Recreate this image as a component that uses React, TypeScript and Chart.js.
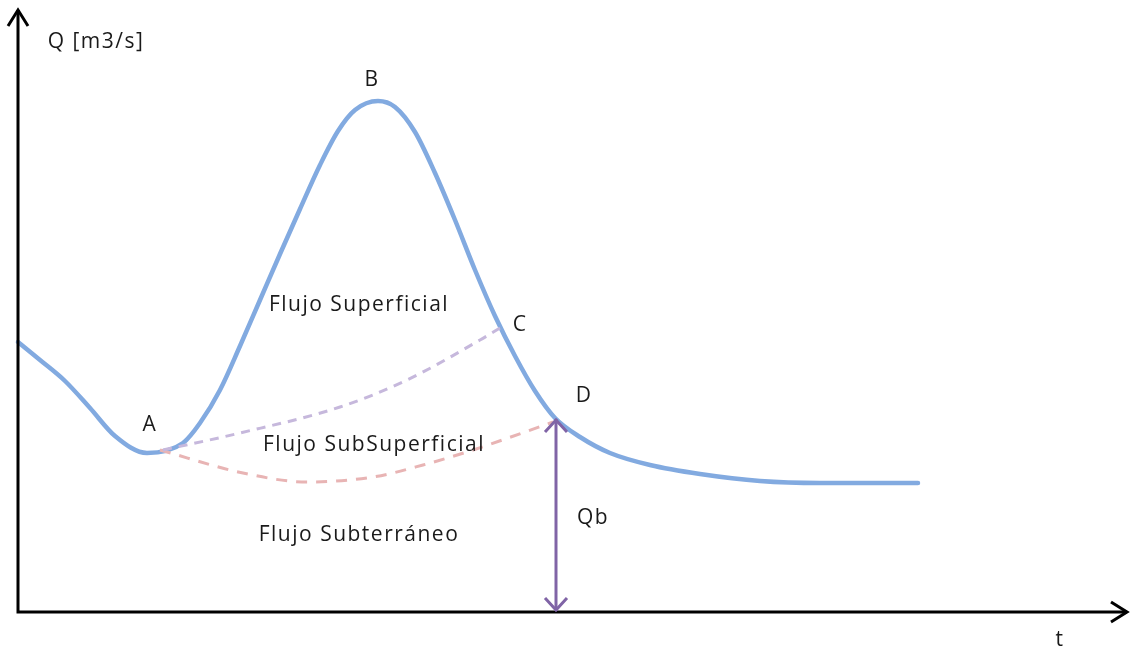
import React, { useEffect, useRef } from "react";
import { Chart, registerables } from "chart.js";

Chart.register(...registerables);

// Hydrograph (time units vs Q)
const hydroT = [0, 22, 47, 72, 97, 129, 165, 182, 202, 222, 242, 262, 282, 302, 320, 337, 360, 377, 397, 417, 437, 457, 477, 497, 517, 537, 562, 592, 632, 682, 742, 802, 900];
const hydroQ = [270, 252, 231, 204, 176, 159, 169, 189, 222, 266, 312, 358, 403, 447, 481, 502, 511, 505, 480, 439, 392, 342, 296, 256, 221, 194, 175, 159, 147, 138, 131, 129, 129];

// Separation line: superficial / subsuperficial (A -> C)
const subSupT = [145, 222, 322, 389, 462, 482];
const subSupQ = [162, 179, 205, 232, 272, 284];

// Separation line: subsuperficial / subterranean (A -> D)
const baseT = [142, 225, 289, 355, 405, 455, 535];
const baseQ = [162, 139, 130, 135, 147, 162, 190];

// Base flow Qb at point D
const qbTime = 538;
const qbValue = 194;

// Axis extents
const tMax = 1109;
const qMax = 602;

// Annotations
const labelTexts = ["Q [m3/s]", "B", "A", "C", "D", "Flujo Superficial", "Flujo SubSuperficial", "Flujo Subterráneo", "Qb", "t"];
const labelT = [78, 354, 132, 502, 566, 341, 356, 341, 575, 1042];
const labelQ = [570, 532, 187, 287, 216, 307, 167, 77, 94, -28];

export default function App() {
  const ref = useRef<HTMLCanvasElement | null>(null);

  useEffect(() => {
    document.body.style.margin = "0";
    const pts = (xs: number[], ys: number[]) => xs.map((x, i) => ({ x, y: ys[i] }));

    const overlay = {
      id: "overlay",
      afterDatasetsDraw(chart: any) {
        const { ctx } = chart;
        const sx = chart.scales.x;
        const sy = chart.scales.y;
        const X = (v: number) => sx.getPixelForValue(v);
        const Y = (v: number) => sy.getPixelForValue(v);
        ctx.save();
        // axes
        ctx.strokeStyle = "#000";
        ctx.lineWidth = 3;
        ctx.lineCap = "butt";
        ctx.lineJoin = "miter";
        ctx.beginPath();
        ctx.moveTo(X(0), Y(0) + 1.5);
        ctx.lineTo(X(0), Y(qMax));
        ctx.moveTo(X(0) - 1.5, Y(0));
        ctx.lineTo(X(tMax), Y(0));
        ctx.stroke();
        // arrowheads
        ctx.beginPath();
        ctx.moveTo(X(0) - 10, Y(qMax) + 16);
        ctx.lineTo(X(0), Y(qMax));
        ctx.lineTo(X(0) + 10, Y(qMax) + 16);
        ctx.moveTo(X(tMax) - 16, Y(0) - 10);
        ctx.lineTo(X(tMax), Y(0));
        ctx.lineTo(X(tMax) - 16, Y(0) + 10);
        ctx.stroke();

        // Qb double arrow
        ctx.strokeStyle = "rgb(128,100,166)";
        ctx.lineWidth = 3;
        const qx = X(qbTime);
        const top = Y(qbValue);
        const bot = Y(0);
        ctx.beginPath();
        ctx.moveTo(qx, top + 1);
        ctx.lineTo(qx, bot - 1);
        ctx.stroke();
        ctx.beginPath();
        ctx.moveTo(qx - 11, top + 14);
        ctx.lineTo(qx, top + 2);
        ctx.lineTo(qx + 11, top + 14);
        ctx.moveTo(qx - 11, bot - 14);
        ctx.lineTo(qx, bot - 2);
        ctx.lineTo(qx + 11, bot - 14);
        ctx.stroke();

        // labels
        ctx.fillStyle = "#1a1a1a";
        ctx.textAlign = "center";
        ctx.textBaseline = "middle";
        ctx.font = "21px 'Open Sans'";
        (ctx as any).letterSpacing = "1.5px";
        labelTexts.forEach((txt, i) => {
          ctx.fillText(txt, X(labelT[i]), Y(labelQ[i]));
        });
        ctx.restore();
      },
    };

    const chart = new Chart(ref.current as HTMLCanvasElement, {
      type: "scatter",
      data: {
        datasets: [
          {
            label: "Flujo SubSuperficial",
            data: pts(subSupT, subSupQ),
            showLine: true,
            borderColor: "rgb(198,184,220)",
            borderWidth: 3,
            borderDash: [9, 7],
            pointRadius: 0,
            tension: 0.4,
            cubicInterpolationMode: "monotone",
          },
          {
            label: "Flujo Subterráneo",
            data: pts(baseT, baseQ),
            showLine: true,
            borderColor: "rgb(232,180,180)",
            borderWidth: 3,
            borderDash: [11, 9],
            pointRadius: 0,
            tension: 0.4,
            cubicInterpolationMode: "monotone",
          },
          {
            label: "Q",
            data: pts(hydroT, hydroQ),
            showLine: true,
            borderColor: "rgb(130,170,224)",
            borderWidth: 4.5,
            borderCapStyle: "round",
            pointRadius: 0,
            tension: 0.4,
            cubicInterpolationMode: "monotone",
          },
        ],
      },
      options: {
        animation: false,
        responsive: true,
        maintainAspectRatio: false,
        layout: { padding: 0 },
        plugins: { legend: { display: false }, tooltip: { enabled: false } },
        scales: {
          x: { type: "linear", min: -18, max: 1118, display: false },
          y: { type: "linear", min: -38, max: 612, display: false },
        },
      },
      plugins: [overlay],
    } as any);
    return () => chart.destroy();
  }, []);

  return (
    <div style={{ position: "fixed", left: 0, top: 0, width: 1136, height: 650, background: "#fff" }}>
      <canvas ref={ref} />
    </div>
  );
}
